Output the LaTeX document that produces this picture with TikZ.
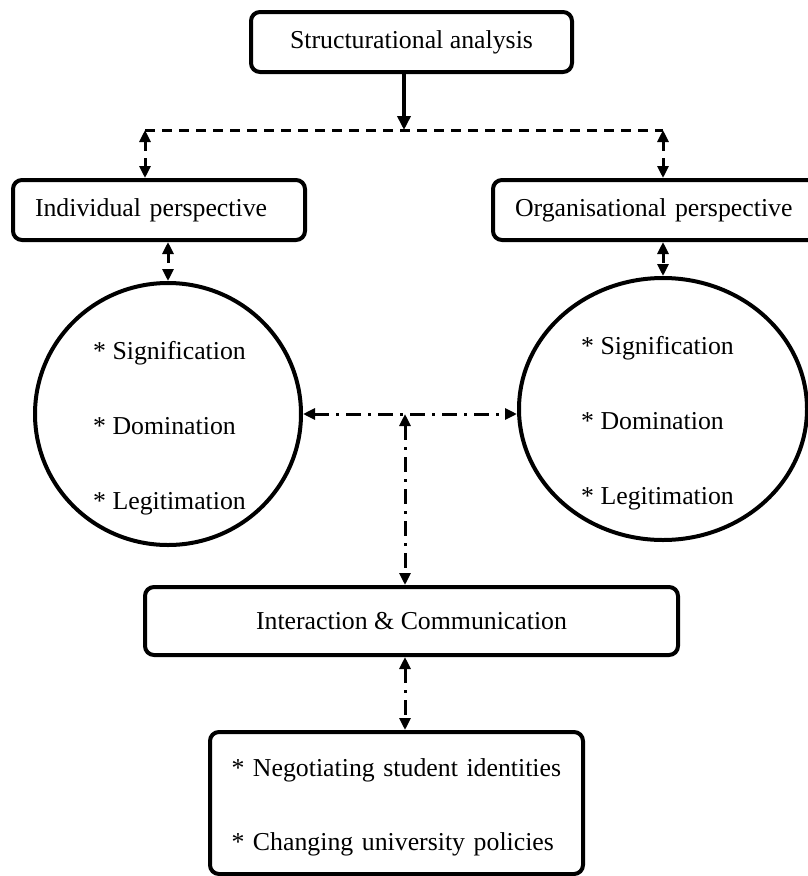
\documentclass[tikz,border=0pt]{standalone}
\usepackage{fontspec}
\setmainfont{Liberation Serif}
\usetikzlibrary{arrows.meta,positioning,shapes.geometric}
\tikzset{
  box/.style={draw=black,line width=4pt,rounded corners=9pt,font=\fontsize{25.8}{31}\selectfont},
  ring/.style={draw=black,line width=4pt,ellipse,inner sep=0pt},
  items/.style={align=left,inner sep=0pt,font=\fontsize{25.8}{75}\selectfont},
  link/.style={line width=3pt},
  dashlink/.style={link,dash pattern=on 10pt off 7pt},
  dotlink/.style={link,dash pattern=on 15pt off 7pt on 3pt off 7pt},
}
\begin{document}
\begin{tikzpicture}[x=1pt,y=-1pt,>={Triangle[length=12pt,width=11pt]}]
\useasboundingbox (0,0) rectangle (807,876);
\node (top) [box,minimum width=321pt,minimum height=60pt] at (411.5,42) {Structurational analysis};
\node (ind) [box,minimum height=60pt,text width=248pt,inner xsep=22pt] at (159,210) {Individual perspective};
\node (org) [box,minimum height=60pt,text width=293pt,inner xsep=22pt] at (661.5,210) {Organisational perspective};
\node (circL) [ring,minimum width=266pt,minimum height=262pt] at (168,414) {};
\node (circR) [ring,minimum width=288pt,minimum height=262pt] at (663,409) {};
\node (listL) [items,anchor=west] at (93,428) {* Signification\\{}* Domination\\{}* Legitimation};
\node (listR) [items,anchor=west] at (581,423) {* Signification\\{}* Domination\\{}* Legitimation};
\node (inter) [box,minimum width=533pt,minimum height=68pt] at (411.5,621) {Interaction \& Communication};
\node (out) [box,minimum height=142pt,text width=330pt,inner xsep=21.5pt,align=left,text height=26pt,font=\fontsize{25.8}{74}\selectfont] at (396.5,803) {* Negotiating student identities\\{}* Changing university policies};
%
\coordinate (split) at (404,130);
\coordinate (splitL) at (145,130);
\coordinate (splitR) at (663,130);
\coordinate (hub) at (405,414);
%
\draw[->,line width=4pt,>={Triangle[length=14pt,width=13pt]}] (top.south -| split) -- (split);
\draw[dashlink] (splitL) -- (splitR);
\draw[dashlink,<->] (splitL) -- (ind.north -| splitL);
\draw[dashlink,<->] (splitR) -- (org.north -| splitR);
\draw[dashlink,<->] (ind.south -| circL.north) -- (circL.north);
\draw[dashlink,<->] (org.south -| circR.north) -- (circR.north);
\draw[dotlink,<->] (circL.east) -- (circL.east -| circR.west);
\draw[dotlink,<->] (hub) -- (inter.north -| hub);
\draw[dotlink,<->] (inter.south -| hub) -- (out.north -| hub);
\end{tikzpicture}
\end{document}
